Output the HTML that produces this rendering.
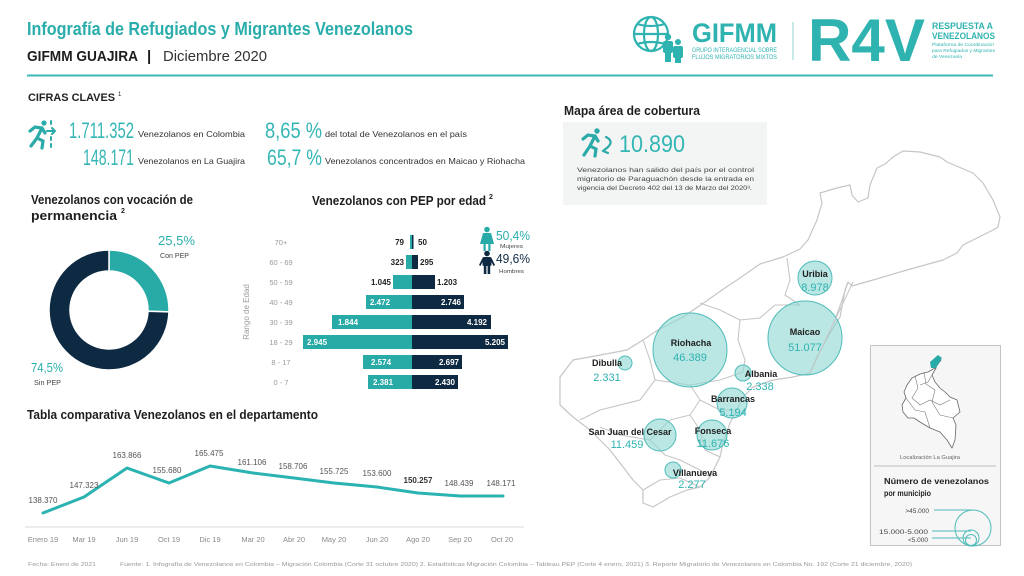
<!DOCTYPE html>
<html><head><meta charset="utf-8"><style>
html,body{margin:0;padding:0;background:#fff;}
svg{display:block;font-family:"Liberation Sans",sans-serif;}
</style></head><body>
<svg width="1024" height="576" viewBox="0 0 1024 576" xmlns="http://www.w3.org/2000/svg">
<rect width="1024" height="576" fill="#fff"/>

<!-- HEADER -->
<text x="27" y="35" font-size="18" font-weight="bold" fill="#2aadab" textLength="386" lengthAdjust="spacingAndGlyphs">Infografía de Refugiados y Migrantes Venezolanos</text>
<text x="27" y="61" font-size="15" font-weight="bold" fill="#1d1d1b" textLength="111" lengthAdjust="spacingAndGlyphs">GIFMM GUAJIRA</text>
<text x="147" y="61" font-size="15" font-weight="bold" fill="#1d1d1b">|</text>
<text x="163" y="61" font-size="15" fill="#333" textLength="104" lengthAdjust="spacingAndGlyphs">Diciembre 2020</text>
<line x1="27" y1="75.5" x2="993" y2="75.5" stroke="#3dbab7" stroke-width="2"/>

<!-- LOGOS -->
<g fill="none" stroke="#2fb3b0" stroke-width="2.2">
  <circle cx="651" cy="34" r="17"/>
  <ellipse cx="651" cy="34" rx="7" ry="17"/>
  <line x1="634" y1="34" x2="668" y2="34"/>
  <path d="M637,24 Q651,28 665,24"/>
  <path d="M637,44 Q651,40 665,44"/>
</g>
<g fill="#2fb3b0">
  <circle cx="668" cy="37" r="3.2"/><rect x="663" y="41" width="10" height="12" rx="2"/>
  <circle cx="678" cy="42" r="3"/><rect x="673" y="46" width="10" height="12" rx="2"/>
  <rect x="665" y="52" width="6" height="10"/><rect x="675" y="57" width="6" height="6"/>
</g>
<text x="692" y="42" font-size="27" font-weight="bold" fill="#2fb3b0" textLength="85" lengthAdjust="spacingAndGlyphs">GIFMM</text>
<text x="692" y="52" font-size="6" fill="#2fb3b0" textLength="85" lengthAdjust="spacingAndGlyphs">GRUPO INTERAGENCIAL SOBRE</text>
<text x="692" y="59" font-size="6" fill="#2fb3b0" textLength="85" lengthAdjust="spacingAndGlyphs">FLUJOS MIGRATORIOS MIXTOS</text>
<line x1="793" y1="22" x2="793" y2="60" stroke="#9fd9d7" stroke-width="1.2"/>
<text x="808" y="61" font-size="60" font-weight="bold" fill="#2fb3b0" textLength="117" lengthAdjust="spacingAndGlyphs">R4V</text>
<text x="932" y="29" font-size="9" font-weight="bold" fill="#2fb3b0" textLength="61" lengthAdjust="spacingAndGlyphs">RESPUESTA A</text>
<text x="932" y="39" font-size="9" font-weight="bold" fill="#2fb3b0" textLength="63" lengthAdjust="spacingAndGlyphs">VENEZOLANOS</text>
<text x="932" y="46" font-size="4.6" fill="#2fb3b0" textLength="62" lengthAdjust="spacingAndGlyphs">Plataforma de Coordinación</text>
<text x="932" y="52" font-size="4.6" fill="#2fb3b0" textLength="63" lengthAdjust="spacingAndGlyphs">para Refugiados y Migrantes</text>
<text x="932" y="58" font-size="4.6" fill="#2fb3b0" textLength="30" lengthAdjust="spacingAndGlyphs">de Venezuela</text>

<!-- CIFRAS CLAVES -->
<text x="28" y="101" font-size="11" font-weight="bold" fill="#222" textLength="87" lengthAdjust="spacingAndGlyphs">CIFRAS CLAVES</text>
<text x="118" y="96" font-size="6" fill="#222">1</text>
<g stroke="#2aaaa8" stroke-width="3.2" stroke-linecap="round" fill="none">
  <circle cx="44" cy="123" r="2.6" fill="#2aaaa8" stroke="none"/>
  <path d="M42,128 L37,138 L31,146"/>
  <path d="M37,138 L43,141 L42,148"/>
  <path d="M30,131 L35,127 L42,128 L45,133"/>
  <path d="M47,131 L55,131 M52,128 L55,131 L52,134" stroke-width="2"/>
  <path d="M51,121 L51,124 M51,137 L51,140 M51,144 L51,147" stroke-width="2"/>
</g>
<g fill="#34b6b4">
<text x="69" y="138" font-size="22" textLength="65" lengthAdjust="spacingAndGlyphs">1.711.352</text>
<text x="265" y="138" font-size="22" textLength="57" lengthAdjust="spacingAndGlyphs">8,65 %</text>
<text x="83" y="165" font-size="22" textLength="51" lengthAdjust="spacingAndGlyphs">148.171</text>
<text x="267" y="165" font-size="22" textLength="55" lengthAdjust="spacingAndGlyphs">65,7 %</text>
</g>
<g fill="#333" font-size="8.5">
<text x="138" y="137" textLength="107" lengthAdjust="spacingAndGlyphs">Venezolanos en Colombia</text>
<text x="325" y="137" textLength="142" lengthAdjust="spacingAndGlyphs">del total de Venezolanos en el país</text>
<text x="138" y="164" textLength="107" lengthAdjust="spacingAndGlyphs">Venezolanos en La Guajira</text>
<text x="325" y="164" textLength="200" lengthAdjust="spacingAndGlyphs">Venezolanos concentrados en Maicao y Riohacha</text>
</g>

<!-- DONUT -->
<text x="31" y="204" font-size="13" font-weight="bold" fill="#1e1e1e" textLength="162" lengthAdjust="spacingAndGlyphs">Venezolanos con vocación de</text>
<text x="31" y="220" font-size="13" font-weight="bold" fill="#1e1e1e" textLength="86" lengthAdjust="spacingAndGlyphs">permanencia</text>
<text x="121" y="213" font-size="7" font-weight="bold" fill="#1e1e1e">2</text>
<path d="M109,250 A60,60 0 0 1 168.97,311.88 L147.98,311.22 A39,39 0 0 0 109,271 Z" fill="#28aaa7" stroke="#fff" stroke-width="1.5"/>
<path d="M168.97,311.88 A60,60 0 1 1 109,250 L109,271 A39,39 0 1 0 147.98,311.22 Z" fill="#0e2a42" stroke="#fff" stroke-width="1.5"/>
<text x="158" y="245" font-size="13" fill="#2aaeac" textLength="37" lengthAdjust="spacingAndGlyphs">25,5%</text>
<text x="160" y="258" font-size="7.5" fill="#444" textLength="29" lengthAdjust="spacingAndGlyphs">Con PEP</text>
<text x="31" y="372" font-size="13" fill="#2aaeac" textLength="32" lengthAdjust="spacingAndGlyphs">74,5%</text>
<text x="34" y="385" font-size="7.5" fill="#444" textLength="27" lengthAdjust="spacingAndGlyphs">Sin PEP</text>

<!-- PYRAMID -->
<text x="312" y="205" font-size="13" font-weight="bold" fill="#1e1e1e" textLength="174" lengthAdjust="spacingAndGlyphs">Venezolanos con PEP por edad</text>
<text x="489" y="199" font-size="7" font-weight="bold" fill="#1e1e1e">2</text>
<text transform="translate(249,312) rotate(-90)" text-anchor="middle" font-size="8" fill="#9a9a9a">Rango de Edad</text>
<g font-size="7.5" fill="#9a9a9a" text-anchor="middle">
<text x="281" y="245">70+</text>
<text x="281" y="265">60 - 69</text>
<text x="281" y="285">50 - 59</text>
<text x="281" y="305">40 - 49</text>
<text x="281" y="325">30 - 39</text>
<text x="281" y="345">18 - 29</text>
<text x="281" y="365">8 - 17</text>
<text x="281" y="385">0 - 7</text>
</g>
<g fill="#28aaa7">
<rect x="410" y="235" width="2" height="14"/>
<rect x="406" y="255" width="6" height="14"/>
<rect x="393" y="275" width="19" height="14"/>
<rect x="366" y="295" width="46" height="14"/>
<rect x="332" y="315" width="80" height="14"/>
<rect x="303" y="335" width="109" height="14"/>
<rect x="363" y="355" width="49" height="14"/>
<rect x="368" y="375" width="44" height="14"/>
</g>
<g fill="#0e2a42">
<rect x="412" y="235" width="1.5" height="14"/>
<rect x="412" y="255" width="6" height="14"/>
<rect x="412" y="275" width="23" height="14"/>
<rect x="412" y="295" width="52" height="14"/>
<rect x="412" y="315" width="79" height="14"/>
<rect x="412" y="335" width="96" height="14"/>
<rect x="412" y="355" width="50" height="14"/>
<rect x="412" y="375" width="46" height="14"/>
</g>
<g font-size="8" font-weight="bold" fill="#222">
<text x="404" y="245" text-anchor="end">79</text>
<text x="418" y="245">50</text>
<text x="404" y="265" text-anchor="end">323</text>
<text x="420" y="265">295</text>
<text x="391" y="285" text-anchor="end">1.045</text>
<text x="437" y="285">1.203</text>
</g>
<g font-size="8" font-weight="bold" fill="#fff">
<text x="370" y="305">2.472</text>
<text x="461" y="305" text-anchor="end">2.746</text>
<text x="338" y="325">1.844</text>
<text x="487" y="325" text-anchor="end">4.192</text>
<text x="307" y="345">2.945</text>
<text x="505" y="345" text-anchor="end">5.205</text>
<text x="371" y="365">2.574</text>
<text x="459" y="365" text-anchor="end">2.697</text>
<text x="373" y="385">2.381</text>
<text x="455" y="385" text-anchor="end">2.430</text>
</g>
<!-- gender legend -->
<g fill="#28aaa7">
  <circle cx="487" cy="229.5" r="2.8"/>
  <path d="M483,233 L491,233 L494,244 L480,244 Z"/>
  <rect x="483.5" y="244" width="2.2" height="7"/><rect x="488.3" y="244" width="2.2" height="7"/>
</g>
<text x="496" y="240" font-size="13" fill="#2aaeac" textLength="34" lengthAdjust="spacingAndGlyphs">50,4%</text>
<text x="500" y="248" font-size="5.5" fill="#444" textLength="23" lengthAdjust="spacingAndGlyphs">Mujeres</text>
<g fill="#0e2a42">
  <circle cx="487" cy="253.5" r="2.8"/>
  <rect x="482.5" y="257" width="9" height="9" rx="1.5"/>
  <path d="M482.5,258 L479,265 L480.5,266 L483.5,260 Z M491.5,258 L495,265 L493.5,266 L490.5,260 Z"/>
  <rect x="483.8" y="265" width="2.6" height="9"/><rect x="487.6" y="265" width="2.6" height="9"/>
</g>
<text x="496" y="263" font-size="13" fill="#0e2a42" textLength="34" lengthAdjust="spacingAndGlyphs">49,6%</text>
<text x="499" y="273" font-size="5.5" fill="#444" textLength="25" lengthAdjust="spacingAndGlyphs">Hombres</text>

<!-- LINE CHART -->
<text x="27" y="419" font-size="13" font-weight="bold" fill="#1e1e1e" textLength="291" lengthAdjust="spacingAndGlyphs">Tabla comparativa Venezolanos en el departamento</text>
<line x1="25" y1="527" x2="524" y2="527" stroke="#e6e6e6" stroke-width="1.5"/>
<polyline points="43,513 84,497 127,468 169,483 210,466 253,473 294,478 334,483 377,487 418,493 460,496 503,496" fill="none" stroke="#2ab3b0" stroke-width="3" stroke-linejoin="round" stroke-linecap="round"/>
<g font-size="8" fill="#555" text-anchor="middle">
<text x="43" y="503">138.370</text>
<text x="84" y="488">147.323</text>
<text x="127" y="458">163.866</text>
<text x="167" y="473">155.680</text>
<text x="209" y="456">165.475</text>
<text x="252" y="465">161.106</text>
<text x="293" y="469">158.706</text>
<text x="334" y="474">155.725</text>
<text x="377" y="476">153.600</text>
<text x="418" y="483" font-weight="bold" fill="#333">150.257</text>
<text x="459" y="486">148.439</text>
<text x="501" y="486">148.171</text>
</g>
<g font-size="7.5" fill="#8a8a8a" text-anchor="middle">
<text x="43" y="542">Enero 19</text>
<text x="84" y="542">Mar 19</text>
<text x="127" y="542">Jun 19</text>
<text x="169" y="542">Oct 19</text>
<text x="210" y="542">Dic 19</text>
<text x="253" y="542">Mar 20</text>
<text x="294" y="542">Abr 20</text>
<text x="334" y="542">May 20</text>
<text x="377" y="542">Jun 20</text>
<text x="418" y="542">Ago 20</text>
<text x="460" y="542">Sep 20</text>
<text x="502" y="542">Oct 20</text>
</g>

<!-- FOOTER -->
<text x="28" y="566" font-size="5.5" fill="#999" textLength="68" lengthAdjust="spacingAndGlyphs">Fecha: Enero de 2021</text>
<text x="120" y="566" font-size="5.5" fill="#999" textLength="792" lengthAdjust="spacingAndGlyphs">Fuente: 1. Infografía de Venezolanos en Colombia – Migración Colombia (Corte 31 octubre 2020) 2. Estadísticas Migración Colombia – Tableau PEP (Corte 4 enero, 2021) 3. Reporte Migratorio de Venezolanos en Colombia No. 192 (Corte 21 diciembre, 2020)</text>

<!-- MAP SECTION -->
<text x="564" y="115" font-size="13" font-weight="bold" fill="#1e1e1e" textLength="136" lengthAdjust="spacingAndGlyphs">Mapa área de cobertura</text>
<rect x="563" y="122" width="204" height="83" fill="#f3f4f4"/>
<g stroke="#2aaaa8" stroke-width="3.2" stroke-linecap="round" fill="none">
  <circle cx="597" cy="131" r="2.7" fill="#2aaaa8" stroke="none"/>
  <path d="M595,136 L590,146 L584,155"/>
  <path d="M590,146 L596,149 L595,156"/>
  <path d="M583,139 L588,135 L595,136 L598,141"/>
  <path d="M606,137 Q614,141 608,147 L603,151 M603,151 L608,153" stroke-width="2.2"/>
</g>
<text x="619" y="152" font-size="24" fill="#34b6b4" textLength="66" lengthAdjust="spacingAndGlyphs">10.890</text>
<g font-size="6.6" fill="#444">
<text x="577" y="172" textLength="177" lengthAdjust="spacingAndGlyphs">Venezolanos han salido del país por el control</text>
<text x="577" y="181" textLength="177" lengthAdjust="spacingAndGlyphs">migratorio de Paraguachón desde la entrada en</text>
<text x="577" y="190" textLength="175" lengthAdjust="spacingAndGlyphs">vigencia del Decreto 402 del 13 de Marzo del 2020³.</text>
</g>

<!-- La Guajira outline -->
<path d="M560,377 L573,360 L595,356 L627,350 L643,340 L658,330 L683,317 L705,302 L722,290 L740,278 L760,264 L783,257 L800,249 L808,240 L817,220 L822,203 L820,193 L837,188 L850,185 L852,195 L858,202 L868,198 L870,185 L877,168 L885,164 L893,157 L903,151 L920,152 L940,157 L947,162 L973,173 L983,183 L993,200 L1000,217 L998,227 L993,230 L973,240 L963,245 L957,253 L943,260 L907,270 L873,280 L852,286 L848,282 L845,290 L840,317 L830,333 L817,357 L810,373 L793,377 L773,380 L753,387 L743,397 L737,410 L730,423 L723,443 L720,457 L710,477 L700,487 L687,490 L670,497 L653,507 L643,503 L643,490 L633,480 L610,450 L590,430 L573,417 L560,405 Z" fill="#fff" stroke="#c6c6c6" stroke-width="1.2" stroke-linejoin="round"/>
<g fill="none" stroke="#c6c6c6" stroke-width="1.1" stroke-linejoin="round">
  <path d="M787,258 L790,280 L785,295 L800,305"/>
  <path d="M700,303 L720,310 L740,320 L760,318 L775,305 L800,305"/>
  <path d="M740,320 L738,340 L745,360 L743,372"/>
  <path d="M643,340 L650,360 L655,380 L640,400 L600,410 L580,420"/>
  <path d="M655,380 L690,385 L720,380 L743,372"/>
  <path d="M690,385 L700,400 L690,415 L670,420 L650,440 L620,435 L600,427"/>
  <path d="M700,400 L720,410 L737,410"/>
  <path d="M690,415 L700,430 L705,450 L720,457"/>
  <path d="M650,440 L665,455 L680,460 L700,470 L710,477"/>
  <path d="M643,490 L660,480 L680,478 L700,487"/>
  <path d="M848,282 L842,300 L835,320"/>
</g>
<!-- bubbles -->
<g fill="#8fd6d4" fill-opacity="0.62" stroke="#4fbcb9" stroke-width="1">
  <circle cx="815" cy="278" r="17"/>
  <circle cx="805" cy="338" r="37"/>
  <circle cx="690" cy="350" r="37"/>
  <circle cx="625" cy="363" r="7"/>
  <circle cx="743" cy="373" r="8"/>
  <circle cx="732" cy="403" r="15"/>
  <circle cx="660" cy="435" r="16"/>
  <circle cx="712" cy="435" r="15"/>
  <circle cx="673" cy="470" r="8"/>
</g>
<line x1="853" y1="282" x2="810" y2="373" stroke="#c6c6c6" stroke-width="1"/>
<g font-size="9" font-weight="bold" fill="#1e1e1e" text-anchor="middle">
<text x="815" y="277">Uribia</text>
<text x="805" y="335">Maicao</text>
<text x="691" y="346">Riohacha</text>
<text x="607" y="366">Dibulla</text>
<text x="761" y="377">Albania</text>
<text x="733" y="402">Barrancas</text>
<text x="630" y="435">San Juan del Cesar</text>
<text x="713" y="434">Fonseca</text>
<text x="695" y="476">Villanueva</text>
</g>
<g font-size="11" fill="#2fb3b0" text-anchor="middle">
<text x="815" y="291">8.978</text>
<text x="805" y="351">51.077</text>
<text x="690" y="361">46.389</text>
<text x="607" y="381">2.331</text>
<text x="760" y="390">2.338</text>
<text x="733" y="416">5.194</text>
<text x="627" y="448">11.459</text>
<text x="713" y="447">11.676</text>
<text x="692" y="488">2.277</text>
</g>

<!-- LEGEND BOX -->
<rect x="870.5" y="345.5" width="130" height="200" fill="#f6f6f6" stroke="#c4c4c4" stroke-width="1"/>
<path d="M938,357 L941,360 L935,368 L928,372 L920,374 L912,378 L907,385 L904,392 L906,398 L902,405 L903,412 L908,418 L914,418 L920,422 L930,428 L940,432 L947,440 L952,448 L955,440 L956,425 L953,418 L960,412 L957,400 L950,397 L945,392 L940,388 L935,382 L932,375 L936,368 Z" fill="#fff" stroke="#666" stroke-width="0.8" stroke-linejoin="round"/>
<g fill="none" stroke="#777" stroke-width="0.6">
  <path d="M915,376 L918,388 L912,398 L920,405 L930,400 L940,405 L950,400"/>
  <path d="M924,372 L926,384 L935,390 L932,402 L940,415 L953,418"/>
  <path d="M906,398 L915,410 L925,412 L930,428"/>
  <path d="M920,385 L928,382 L932,375"/>
</g>
<path d="M930,362 L938,355 L942,358 L936,368 L931,368 Z" fill="#28aaa7"/>
<text x="930" y="459" font-size="5.5" fill="#666" text-anchor="middle" textLength="60" lengthAdjust="spacingAndGlyphs">Localización La Guajira</text>
<line x1="874" y1="466" x2="996" y2="466" stroke="#bdbdbd" stroke-width="1"/>
<text x="884" y="484" font-size="8" font-weight="bold" fill="#222" textLength="105" lengthAdjust="spacingAndGlyphs">Número de venezolanos</text>
<text x="884" y="496" font-size="8" font-weight="bold" fill="#222" textLength="47" lengthAdjust="spacingAndGlyphs">por municipio</text>
<g font-size="6.5" fill="#444" text-anchor="end">
<text x="929" y="513">&gt;45.000</text>
<text x="928" y="534" textLength="49" lengthAdjust="spacingAndGlyphs">15.000-5.000</text>
<text x="928" y="542">&lt;5.000</text>
</g>
<g fill="none" stroke="#4fbcb9" stroke-width="1">
  <line x1="934" y1="510" x2="973" y2="510"/>
  <line x1="932" y1="531" x2="971" y2="531"/>
  <line x1="932" y1="538" x2="971" y2="538"/>
  <circle cx="973" cy="528" r="18"/>
  <circle cx="971" cy="538" r="8"/>
  <circle cx="971" cy="540" r="5.5"/>
</g>
</svg>
</body></html>
